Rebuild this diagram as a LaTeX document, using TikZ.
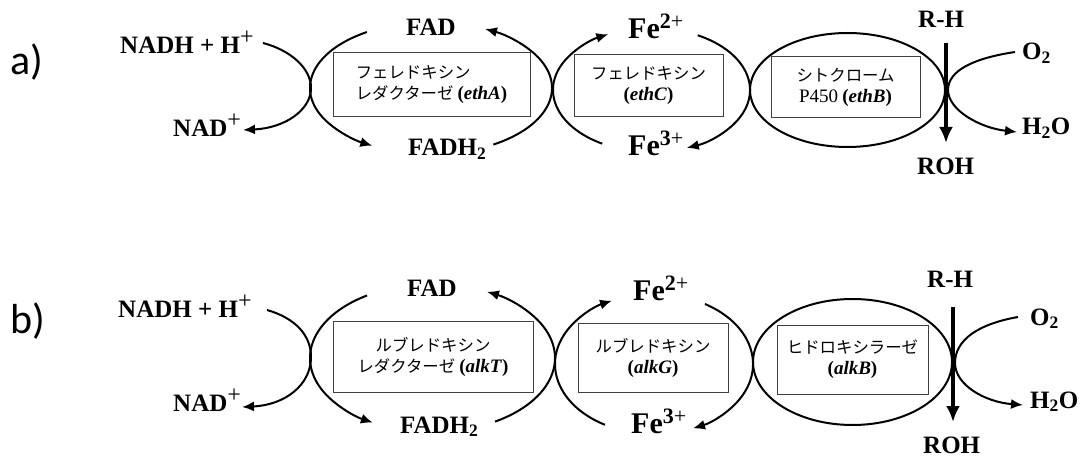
\documentclass[tikz,border=0pt]{standalone}
\usepackage{fontspec}
\setmainfont{Liberation Serif}
\newfontfamily\jpfont{Noto Sans CJK JP}
\newfontfamily\tagfont{Carlito}
\usetikzlibrary{arrows.meta,calc}

% Japanese enzyme names and gene tags inside the boxes
\newcommand\kana[1]{{\jpfont #1}}
\newcommand\gene[1]{{\fontsize{19}{21}\selectfont\bfseries(\textit{#1})}}
\newcommand\latn[1]{{\fontsize{19}{21}\selectfont #1}}
% thin raised plus sign used for charges
\newcommand\chg{\raisebox{9pt}{\mdseries\fontsize{24}{24}\selectfont+}}
% iron charge superscript
\newcommand\fech[1]{\raisebox{10pt}{\fontsize{22}{22}\selectfont #1{\mdseries+}}}

\begin{document}
\begin{tikzpicture}[x=1pt,y=-1pt,
  lbl/.style={font=\fontsize{25}{30}\selectfont\bfseries, inner sep=0, anchor=base west},
  felbl/.style={lbl, font=\fontsize{30}{34}\selectfont\bfseries},
  enz/.style={draw=black!75, line width=1pt, inner sep=0, align=center,
              font=\fontsize{16.4}{21}\selectfont},
  cyc/.style={line width=2pt},
  tip/.style={-{Latex[length=12pt,width=10pt]}},
  bigarrow/.style={line width=4pt, -{Latex[length=16pt,width=14pt]}},
  tag/.style={font=\tagfont\fontsize{42}{48}\selectfont, anchor=base west, inner sep=0},
]
\useasboundingbox (0,0) rectangle (1083,457);

% ---------------- panel a ----------------
\node[tag] (taga) at (10,75) {a)};

\node[lbl] (nadhA) at (120,54) {NADH + H\chg};
\node[lbl] (nadA)  at (173,137) {NAD\chg};
\node[lbl] (fadA)  at (406,36) {FAD};
\node[lbl] (fadhA) at (408,156) {FADH\textsubscript{2}};
\node[felbl] (fe2A) at (628,39) {Fe\fech{2}};
\node[felbl] (fe3A) at (628,156) {Fe\fech{3}};
\node[lbl] (rhA)  at (918,28) {R-H};
\node[lbl] (rohA) at (917,175) {ROH};
\node[lbl] (o2A)  at (1022,60) {O\textsubscript{2}};
\node[lbl] (h2oA) at (1022,135) {H\textsubscript{2}O};

\node[enz, minimum width=197, minimum height=64, align=left] (boxA1) at (431.5,85)
  {\kana{フェレドキシン}\\\kana{レダクターゼ} \gene{ethA}};
\node[enz, minimum width=149, minimum height=62] (boxA2) at (648.5,86)
  {\kana{フェレドキシン}\\\gene{ethC}};
\node[enz, minimum width=149, minimum height=61] (boxA3) at (845.5,87.5)
  {\kana{シトクローム}\\\latn{P450} \gene{ethB}};

% NADH oxidation
\coordinate (nadhAend) at (263,43);
\coordinate (nadAend) at (243,130);
\draw[cyc,tip] (nadhAend) .. controls (290,50) and (311,68) .. (311,88)
  .. controls (311,110) and (285,128) .. (nadAend);

% reductase cycle
\coordinate (ea1) at (431,88);
\draw[cyc,tip] ($(ea1)+(238:121 and 66)$) arc[start angle=238,end angle=119,x radius=121,y radius=66];
\draw[cyc,tip] ($(ea1)+(59:121 and 66)$) arc[start angle=59,end angle=-63.5,x radius=121,y radius=66];

% ferredoxin cycle
\coordinate (ea2) at (651.5,90);
\draw[cyc,tip] ($(ea2)+(120:98.5 and 62)$) arc[start angle=120,end angle=244,x radius=98.5,y radius=62];
\draw[cyc,tip] ($(ea2)+(-62:98.5 and 62)$) arc[start angle=-62,end angle=69,x radius=98.5,y radius=62];

% cytochrome
\draw[cyc] (847.5,90) ellipse[x radius=97.5,y radius=57];

% substrate hydroxylation and oxygen
\coordinate (rhAt) at (946,43);
\coordinate (rohAt) at (946,143);
\draw[bigarrow] (rhAt) -- (rohAt);
\coordinate (o2Aend) at (1015,52);
\coordinate (h2oAend) at (1017,132);
\draw[cyc,tip] (o2Aend) .. controls (975,58) and (948,70) .. (948,90)
  .. controls (948,110) and (980,128) .. (h2oAend);

% ---------------- panel b ----------------
\node[tag] (tagb) at (10,333) {b)};

\node[lbl] (nadhB) at (118,317) {NADH + H\chg};
\node[lbl] (nadB)  at (173,411) {NAD\chg};
\node[lbl] (fadB)  at (407,296) {FAD};
\node[lbl] (fadhB) at (400,433) {FADH\textsubscript{2}};
\node[felbl] (fe2B) at (633,300) {Fe\fech{2}};
\node[felbl] (fe3B) at (631,433) {Fe\fech{3}};
\node[lbl] (rhB)  at (927,287) {R-H};
\node[lbl] (rohB) at (923,453) {ROH};
\node[lbl] (o2B)  at (1030,325) {O\textsubscript{2}};
\node[lbl] (h2oB) at (1030,408) {H\textsubscript{2}O};

\node[enz, minimum width=200, minimum height=71] (boxB1) at (433,356.5)
  {\kana{ルブレドキシン}\\\kana{レダクターゼ} \gene{alkT}};
\node[enz, minimum width=150, minimum height=69] (boxB2) at (653,357.5)
  {\kana{ルブレドキシン}\\\gene{alkG}};
\node[enz, minimum width=151, minimum height=69] (boxB3) at (852.5,359.5)
  {\kana{ヒドロキシラーゼ}\\\gene{alkB}};

\coordinate (nadhBend) at (267,310);
\coordinate (nadBend) at (242,407);
\draw[cyc,tip] (nadhBend) .. controls (295,318) and (311,335) .. (311,357)
  .. controls (311,385) and (285,405) .. (nadBend);

\coordinate (eb1) at (432.5,358);
\draw[cyc,tip] ($(eb1)+(237.7:122.5 and 74)$) arc[start angle=237.7,end angle=119.1,x radius=122.5,y radius=74];
\draw[cyc,tip] ($(eb1)+(59.3:122.5 and 74)$) arc[start angle=59.3,end angle=-63.6,x radius=122.5,y radius=74];

\coordinate (eb2) at (654,364);
\draw[cyc,tip] ($(eb2)+(119.7:99 and 70)$) arc[start angle=119.7,end angle=244.9,x radius=99,y radius=70];
\draw[cyc,tip] ($(eb2)+(-59:99 and 70)$) arc[start angle=-59,end angle=66.8,x radius=99,y radius=70];

\draw[cyc] (852.5,362) ellipse[x radius=99.5,y radius=63];

\coordinate (rhBt) at (953,307);
\coordinate (rohBt) at (953,422);
\draw[bigarrow] (rhBt) -- (rohBt);
\coordinate (o2Bend) at (1018,317);
\coordinate (h2oBend) at (1023,405);
\draw[cyc,tip] (o2Bend) .. controls (978,324) and (955,340) .. (955,363)
  .. controls (955,385) and (985,402) .. (h2oBend);
\end{tikzpicture}
\end{document}
